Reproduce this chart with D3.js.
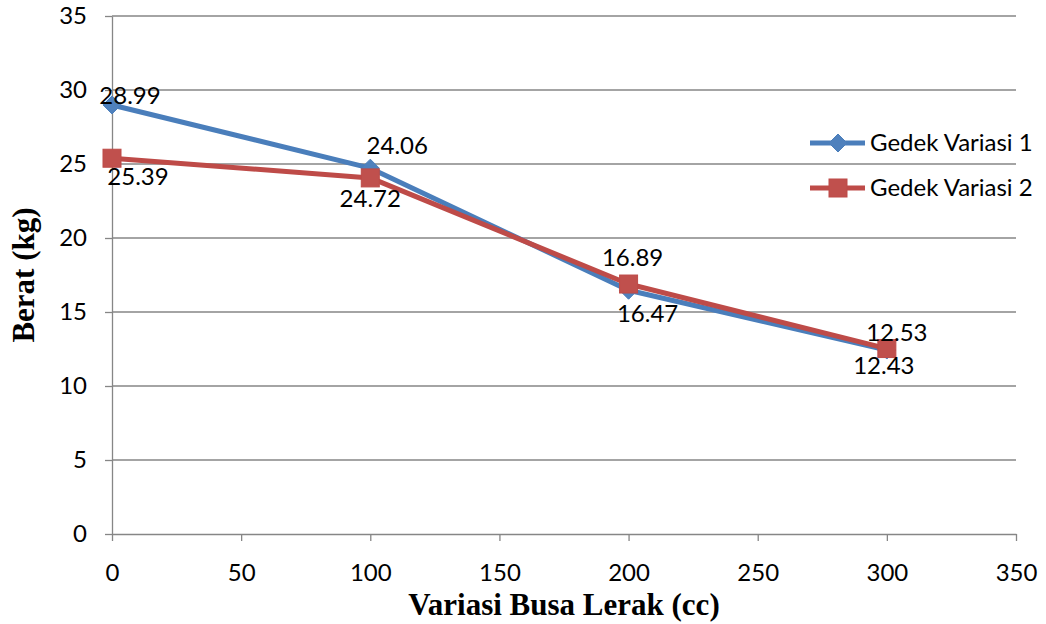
<!DOCTYPE html>
<html>
<head>
<meta charset="utf-8">
<script src="https://cdn.jsdelivr.net/npm/d3@7"></script>
<style>
  html, body { margin: 0; padding: 0; background: #ffffff; }
  svg { display: block; }
</style>
</head>
<body>
<svg id="chart" width="1046" height="624"></svg>
<script>
// Volume of lerak foam (cc) on the x axis
const xValues = [0, 100, 200, 300];
// Weight (kg) for each variation
const series1Values = [28.99, 24.72, 16.47, 12.43];
const series2Values = [25.39, 24.06, 16.89, 12.53];
const seriesNames = ["Gedek Variasi 1", "Gedek Variasi 2"];
const xTicks = [0, 50, 100, 150, 200, 250, 300, 350];
const yTicks = [0, 5, 10, 15, 20, 25, 30, 35];

// Placement of each value label relative to its marker (px)
const labelOffsets1 = [[18, -9], [0, 30], [19, 23], [-3, 16]];
const labelOffsets2 = [[26, 18], [27, -32], [4, -26], [10, -16]];

const svg = d3.select("#chart");
const plotLeft = 112, plotRight = 1016, plotTop = 16, plotBottom = 534;
const gridColor = "#868686";
const tickFont = "Lato, 'Open Sans', sans-serif";
const fontSize = 24;

const x = d3.scaleLinear().domain([0, 350]).range([plotLeft, plotRight]);
const y = d3.scaleLinear().domain([0, 35]).range([plotBottom, plotTop]);

// horizontal gridlines
svg.append("g")
  .selectAll("line")
  .data(yTicks.filter(v => v > 0))
  .join("line")
  .attr("x1", plotLeft).attr("x2", plotRight)
  .attr("y1", d => y(d)).attr("y2", d => y(d))
  .attr("stroke", gridColor).attr("stroke-width", 1.3);

// y axis
const yAxis = svg.append("g")
  .attr("transform", `translate(${plotLeft},0)`)
  .call(d3.axisLeft(y).tickValues(yTicks).tickSize(7).tickPadding(18).tickSizeOuter(0));
yAxis.select(".domain").attr("stroke", gridColor).attr("stroke-width", 1.3);
yAxis.selectAll(".tick line").attr("stroke", gridColor).attr("stroke-width", 1.3);
yAxis.selectAll(".tick text")
  .attr("font-family", tickFont).attr("font-size", fontSize).attr("fill", "#000");

// x axis
const xAxis = svg.append("g")
  .attr("transform", `translate(0,${plotBottom})`)
  .call(d3.axisBottom(x).tickValues(xTicks).tickSize(7).tickPadding(23).tickSizeOuter(0));
xAxis.select(".domain").attr("stroke", gridColor).attr("stroke-width", 1.3);
xAxis.selectAll(".tick line").attr("stroke", gridColor).attr("stroke-width", 1.3);
xAxis.selectAll(".tick text")
  .attr("font-family", tickFont).attr("font-size", fontSize).attr("fill", "#000");

// axis titles
svg.append("text")
  .attr("transform", `translate(34,${(plotTop + plotBottom) / 2}) rotate(-90)`)
  .attr("text-anchor", "middle")
  .attr("font-family", "'Liberation Serif', 'Times New Roman', serif")
  .attr("font-weight", "bold").attr("font-size", 31)
  .text("Berat (kg)");

svg.append("text")
  .attr("x", (plotLeft + plotRight) / 2).attr("y", 615)
  .attr("text-anchor", "middle")
  .attr("font-family", "'Liberation Serif', 'Times New Roman', serif")
  .attr("font-weight", "bold").attr("font-size", 31)
  .text("Variasi Busa Lerak (cc)");

const seriesDefs = [
  { name: seriesNames[0], values: series1Values, line: "#4a7ebb", fill: "#4f81bd", marker: "diamond", offsets: labelOffsets1 },
  { name: seriesNames[1], values: series2Values, line: "#be4b48", fill: "#c0504d", marker: "square", offsets: labelOffsets2 }
];

const lineGen = d3.line().x(d => x(d[0])).y(d => y(d[1]));

function diamondPath(cx, cy, r) {
  return `M${cx},${cy - r}L${cx + r},${cy}L${cx},${cy + r}L${cx - r},${cy}Z`;
}

// series lines
seriesDefs.forEach(s => {
  const pts = xValues.map((xv, i) => [xv, s.values[i]]);
  svg.append("path")
    .datum(pts)
    .attr("d", lineGen)
    .attr("fill", "none")
    .attr("stroke", s.line)
    .attr("stroke-width", 5)
    .attr("stroke-linejoin", "round");
});

// markers
seriesDefs.forEach(s => {
  const pts = xValues.map((xv, i) => [xv, s.values[i]]);
  const g = svg.append("g");
  if (s.marker === "diamond") {
    g.selectAll("path").data(pts).join("path")
      .attr("d", d => diamondPath(x(d[0]), y(d[1]), 9))
      .attr("fill", s.fill).attr("stroke", s.line).attr("stroke-width", 1);
  } else {
    g.selectAll("rect").data(pts).join("rect")
      .attr("x", d => x(d[0]) - 9).attr("y", d => y(d[1]) - 9)
      .attr("width", 18).attr("height", 18)
      .attr("fill", s.fill).attr("stroke", s.line).attr("stroke-width", 1);
  }
});

// value labels
seriesDefs.forEach(s => {
  svg.append("g")
    .selectAll("text")
    .data(xValues.map((xv, i) => ({ xv, v: s.values[i], off: s.offsets[i] })))
    .join("text")
    .attr("x", d => x(d.xv) + d.off[0])
    .attr("y", d => y(d.v) + d.off[1])
    .attr("dy", "0.35em")
    .attr("text-anchor", "middle")
    .attr("font-family", tickFont).attr("font-size", fontSize).attr("fill", "#000")
    .text(d => d.v.toFixed(2));
});

// legend
const legend = svg.append("g");
seriesDefs.forEach((s, i) => {
  const ly = 143 + i * 45;
  legend.append("line")
    .attr("x1", 810).attr("x2", 865).attr("y1", ly).attr("y2", ly)
    .attr("stroke", s.line).attr("stroke-width", 5);
  if (s.marker === "diamond") {
    legend.append("path")
      .attr("d", diamondPath(838, ly, 9))
      .attr("fill", s.fill).attr("stroke", s.line).attr("stroke-width", 1);
  } else {
    legend.append("rect")
      .attr("x", 838 - 9).attr("y", ly - 9).attr("width", 18).attr("height", 18)
      .attr("fill", s.fill).attr("stroke", s.line).attr("stroke-width", 1);
  }
  legend.append("text")
    .attr("x", 870).attr("y", ly).attr("dy", "0.35em")
    .attr("font-family", tickFont).attr("font-size", fontSize).attr("fill", "#000")
    .text(s.name);
});
</script>
</body>
</html>
